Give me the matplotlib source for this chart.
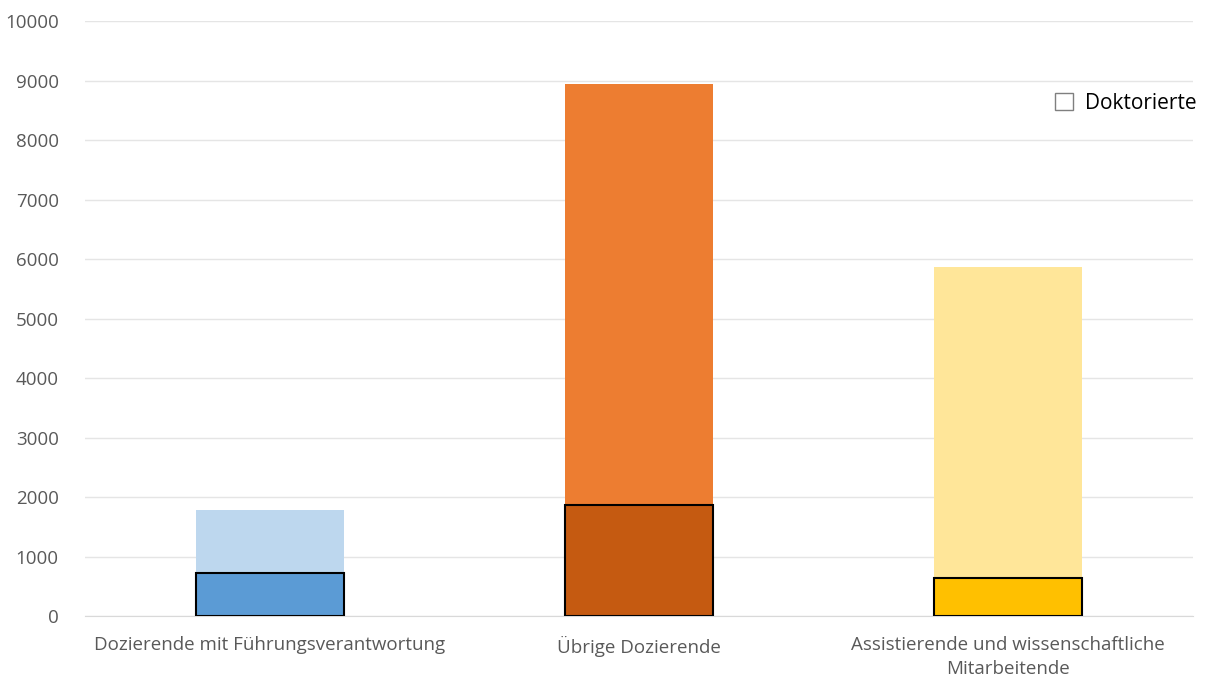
import matplotlib.pyplot as plt
from matplotlib.patches import Patch

plt.rcParams['font.family'] = ['Open Sans', 'DejaVu Sans']

categories = ['Dozierende mit Führungsverantwortung', 'Übrige Dozierende',
              'Assistierende und wissenschaftliche\nMitarbeitende']
total = [1780, 8940, 5870]
doktorierte = [720, 1870, 640]
y_ticks = [0, 1000, 2000, 3000, 4000, 5000, 6000, 7000, 8000, 9000, 10000]

light_colors = ['#BDD7EE', '#ED7D31', '#FFE699']
dark_colors = ['#5B9BD5', '#C55A11', '#FFC000']

fig = plt.figure(figsize=(12.08, 6.8), dpi=100)
ax = fig.add_axes([0.0704, 0.094, 0.917, 0.875])

x = range(len(categories))
ax.bar(x, total, width=0.4, color=light_colors, zorder=2)
ax.bar(x, doktorierte, width=0.4, color=dark_colors, edgecolor='black',
       linewidth=1.5, zorder=3)

ax.set_xlim(-0.5, 2.5)
ax.set_ylim(0, 10000)
ax.set_yticks(y_ticks)
ax.set_xticks(list(x))
ax.set_xticklabels(categories, linespacing=1.45)
ax.tick_params(axis='both', length=0, labelsize=13.5, labelcolor='#595959')
ax.tick_params(axis='y', pad=19)
ax.tick_params(axis='x', pad=14)
ax.grid(axis='y', color='#E5E5E5', linewidth=1, zorder=0)
for side in ['top', 'right', 'left']:
    ax.spines[side].set_visible(False)
ax.spines['bottom'].set_color('#D9D9D9')

handle = Patch(facecolor='white', edgecolor='#7F7F7F', linewidth=1)
ax.legend([handle], ['Doktorierte'], loc='center right', bbox_to_anchor=(1.013, 0.862),
          frameon=False, fontsize=15, handlelength=0.85, handleheight=0.85,
          handletextpad=0.6, borderpad=0)

fig.savefig('out.png', dpi=100, facecolor='white')
